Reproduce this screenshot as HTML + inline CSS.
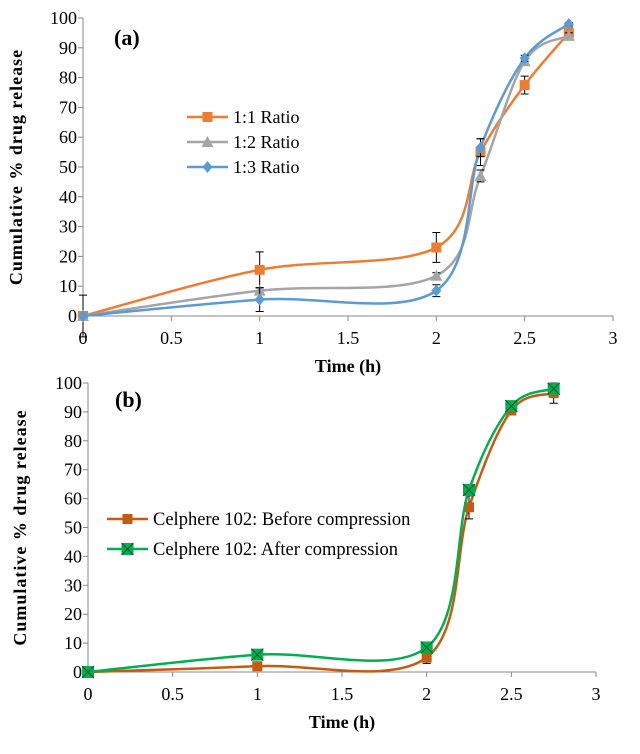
<!DOCTYPE html>
<html><head><meta charset="utf-8"><style>
body{margin:0;background:#fff}
svg{display:block}
text{font-family:"Liberation Serif","Times New Roman",serif}
</style></head><body>
<svg id="chart" width="640" height="754" viewBox="0 0 640 754" font-family="Liberation Serif, serif">
</svg>
<script>
const timesA=[0,1,2,2.25,2.5,2.75];
const r11=[0,15.5,23,55,77.5,95];
const r11Err=[7,6,5,4.5,3,2];
const r12=[0,8.5,13.5,47,85.5,94];
const r12Err=[0,1,1,2,1,1];
const r13=[0,5.5,8.5,56.5,86.5,98];
const r13Err=[0,4,2,3,1,0.5];
const timesB=[0,1,2,2.25,2.5,2.75];
const before=[0,2,5,57,90.5,96.5];
const beforeErr=[0,1,2,4,1,3.5];
const after=[0,6,8.5,63,92,98];
const afterErr=[0,0.5,1,1,1,1];
const xTicks=["0","0.5","1","1.5","2","2.5","3"];
const yTicks=["0","10","20","30","40","50","60","70","80","90","100"];

const NS="http://www.w3.org/2000/svg";
const svg=document.getElementById('chart');
const FF='Liberation Serif, Times New Roman, serif';
function mk(tag,attrs,parent,text){const e=document.createElementNS(NS,tag);for(const k in attrs)e.setAttribute(k,attrs[k]);if(tag==='text')e.setAttribute('font-family',FF);if(text!==undefined)e.textContent=text;(parent||svg).appendChild(e);return e;}

function panel(cfg){
  const g=mk('g',{});
  
  
  const sx=v=>cfg.x0+(cfg.x1-cfg.x0)*v/3;
  const sy=v=>cfg.y0-(cfg.y0-cfg.y100)*v/100;
  const ax=mk('line',{x1:sx(0),y1:sy(0),x2:sx(3),y2:sy(0),stroke:'#888','stroke-width':1},g);
  
  const ay=mk('line',{x1:sx(0),y1:sy(0),x2:sx(0),y2:sy(100),stroke:'#888','stroke-width':1},g);
  
  xTicks.forEach((t,i)=>{const v=parseFloat(t);
    mk('line',{x1:sx(v),y1:sy(0),x2:sx(v),y2:sy(0)+5,stroke:'#888'},g);
    const tx=mk('text',{x:sx(v),y:sy(0)+28,'font-size':18,'text-anchor':'middle'},g,t);
    });
  yTicks.forEach(t=>{const v=parseFloat(t);
    mk('line',{x1:sx(0)-5,y1:sy(v),x2:sx(0),y2:sy(v),stroke:'#888'},g);
    const ty=mk('text',{x:sx(0)-6,y:sy(v)+6,'font-size':18,'text-anchor':'end'},g,t);
    });
  const xt=mk('text',{x:(sx(0)+sx(3))/2,y:sy(0)+56,'font-size':18,'font-weight':'bold','text-anchor':'middle'},g,'Time (h)');
  
  const yc=(sy(0)+sy(100))/2;
  const yt=mk('text',{x:cfg.ytx,y:yc,'font-size':18,'font-weight':'bold','text-anchor':'middle',transform:`rotate(-90 ${cfg.ytx} ${yc})`,'letter-spacing':'1'},g,'Cumulative % drug release');
  
  const pl=mk('text',{x:cfg.lblx,y:cfg.lbly,'font-size':22,'font-weight':'bold'},g,cfg.label);
  
  cfg.series.forEach(s=>{
    const sg=mk('g',{},g);
    
    const pts=cfg.xs.map((x,i)=>[sx(x),sy(s.vals[i])]);
    let d=`M${pts[0][0]},${pts[0][1]}`;const t=1/6;
    for(let i=0;i<pts.length-1;i++){
      const p0=pts[i-1]||pts[i],p1=pts[i],p2=pts[i+1],p3=pts[i+2]||p2;
      d+=` C${p1[0]+(p2[0]-p0[0])*t},${p1[1]+(p2[1]-p0[1])*t} ${p2[0]-(p3[0]-p1[0])*t},${p2[1]-(p3[1]-p1[1])*t} ${p2[0]},${p2[1]}`;
    }
    const ln=mk('path',{d:d,fill:'none',stroke:s.color,'stroke-width':2.5},sg);
    
    pts.forEach((p,i)=>{
      const e=s.err[i];
      if(e>0){const a=sy(s.vals[i]+e),b=sy(s.vals[i]-e);
        const eb=mk('path',{d:`M${p[0]},${a}V${b}M${p[0]-4},${a}H${p[0]+4}M${p[0]-4},${b}H${p[0]+4}`,stroke:'#000','stroke-width':1,fill:'none'},sg);
        }
      const m=marker(s.marker,p[0],p[1],s.color,sg);
      
    });
  });
  cfg.legend.forEach((L,i)=>{
    const s=cfg.series[i];const lg=mk('g',{},g);
    
    const y=L.y;
    mk('line',{x1:cfg.lx0,y1:y,x2:cfg.lx1,y2:y,stroke:s.color,'stroke-width':2.5},lg);
    marker(s.marker,(cfg.lx0+cfg.lx1)/2,y,s.color,lg);
    mk('text',{x:cfg.lx1+5,y:y+6,'font-size':cfg.lfs},lg,s.title);
  });
}
function marker(type,x,y,c,p){
  if(type==='square')return mk('rect',{x:x-5,y:y-5,width:10,height:10,fill:c},p);
  if(type==='tri')return mk('path',{d:`M${x},${y-6}L${x+6},${y+5}L${x-6},${y+5}Z`,fill:c},p);
  if(type==='diamond')return mk('path',{d:`M${x},${y-6}L${x+5},${y}L${x},${y+6}L${x-5},${y}Z`,fill:c},p);
  const g=mk('g',{},p);
  mk('rect',{x:x-6,y:y-6,width:12,height:12,fill:c},g);
  mk('path',{d:`M${x-6},${y-6}L${x+6},${y+6}M${x+6},${y-6}L${x-6},${y+6}`,stroke:'#1a4a2a','stroke-width':1},g);
  return g;
}
panel({name:'panel-a',label:'(a)',x0:83,x1:613,y0:316,y100:18,ytx:22,lblx:114,lbly:45,xs:timesA,
  lx0:187,lx1:228,lfs:18,legend:[{y:117},{y:142},{y:167}],
  series:[{key:'ratio-1-1',title:'1:1 Ratio',vals:r11,err:r11Err,color:'#ed7d31',marker:'square'},
          {key:'ratio-1-2',title:'1:2 Ratio',vals:r12,err:r12Err,color:'#a5a5a5',marker:'tri'},
          {key:'ratio-1-3',title:'1:3 Ratio',vals:r13,err:r13Err,color:'#5b9bd5',marker:'diamond'}]});
panel({name:'panel-b',label:'(b)',x0:88,x1:596,y0:672,y100:383,ytx:26,lblx:115,lbly:407,xs:timesB,
  lx0:107,lx1:148,lfs:18.5,legend:[{y:519},{y:549}],
  series:[{key:'before',title:'Celphere 102: Before compression',vals:before,err:beforeErr,color:'#c55a11',marker:'square'},
          {key:'after',title:'Celphere 102: After compression',vals:after,err:afterErr,color:'#00b050',marker:'xsq'}]});
</script>
</body></html>
